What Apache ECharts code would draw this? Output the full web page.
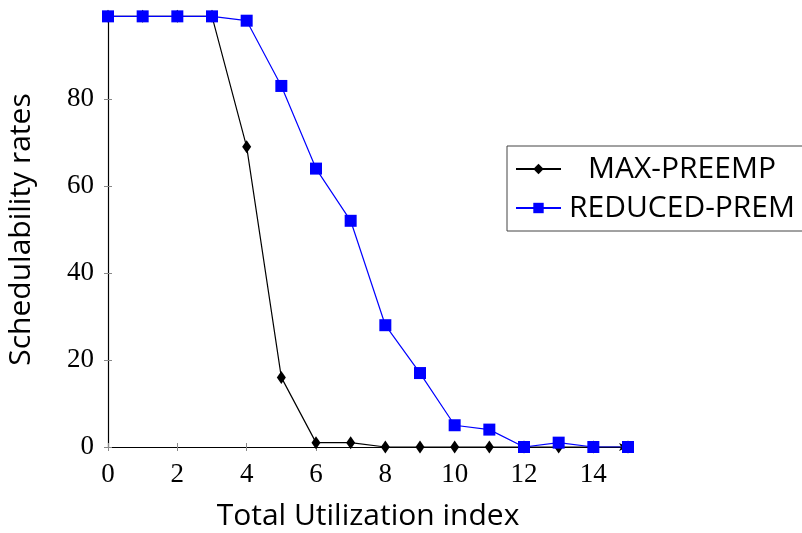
<!DOCTYPE html>
<html><head><meta charset="utf-8">
<script src="https://cdn.jsdelivr.net/npm/echarts@6/dist/echarts.min.js"></script>
<style>html,body{margin:0;padding:0;background:#fff}#c{width:802px;height:533px}</style>
</head><body><div id="c"></div>
<script>
const xValues = [0,1,2,3,4,5,6,7,8,9,10,11,12,13,14,15];
const maxPreemp = [99,99,99,99,69,16,1,1,0,0,0,0,0,0,0,0];
const reducedPrem = [99,99,99,99,98,83,64,52,28,17,5,4,0,1,0,0];
const xTickLabels = [0,2,4,6,8,10,12,14];
const yTickLabels = [0,20,40,60,80];
const seriesNames = ['MAX-PREEMP','REDUCED-PREM'];

const chart = echarts.init(document.getElementById('c'), null, {renderer:'canvas'});
const tickFont = {fontFamily:'Liberation Serif', fontSize:27, color:'#000'};
const tickStyle = {color:'#888', width:1};
const baseX = {type:'value', min:0, max:15, interval:2, position:'bottom', splitLine:{show:false}};
const baseY = {type:'value', min:0, max:100, interval:20, position:'left', splitLine:{show:false}};
chart.setOption({
  animation:false,
  backgroundColor:'#fff',
  grid:{left:108, right:174, top:12, bottom:86, containLabel:false, outerBoundsMode:'none'},
  legend:{
    orient:'vertical', left:507, top:146,
    itemWidth:45, itemHeight:13, itemGap:9,
    padding:[8,40,8,8],
    borderColor:'#444', borderWidth:1, borderRadius:0,
    data:seriesNames,
    formatter: n => '{t|' + n + '}',
    textStyle:{rich:{t:{fontFamily:'Open Sans', fontSize:30, color:'#000', width:232, align:'center'}}}
  },
  xAxis:[
    Object.assign({}, baseX, {
      name:'Total Utilization index', nameLocation:'middle', nameGap:54,
      nameTextStyle:{fontFamily:'Open Sans', fontSize:30, color:'#000'},
      axisLine:{show:true, lineStyle:{color:'#000', width:1.2}, symbol:['none','arrow'], symbolSize:[6,9]},
      axisTick:{show:true, inside:false, length:4, lineStyle:tickStyle},
      axisLabel:Object.assign({margin:14, formatter:v=>xTickLabels.includes(v)?String(v):''}, tickFont)
    }),
    Object.assign({}, baseX, {
      axisLine:{show:false},
      axisTick:{show:true, inside:true, length:4, lineStyle:tickStyle},
      axisLabel:{show:false}
    })
  ],
  yAxis:[
    Object.assign({}, baseY, {
      name:'Schedulability rates', nameLocation:'middle', nameGap:72,
      nameTextStyle:{fontFamily:'Open Sans', fontSize:30, color:'#000'},
      axisLine:{show:true, lineStyle:{color:'#000', width:1.2}, symbol:['none','arrow'], symbolSize:[6,9]},
      axisTick:{show:true, inside:false, length:4, lineStyle:tickStyle},
      axisLabel:Object.assign({margin:14, formatter:v=>yTickLabels.includes(v)?String(v):''}, tickFont)
    }),
    Object.assign({}, baseY, {
      axisLine:{show:false},
      axisTick:{show:true, inside:true, length:4, lineStyle:tickStyle},
      axisLabel:{show:false}
    })
  ],
  series:[
    {
      name:seriesNames[0], type:'line',
      data:xValues.map((x,i)=>[x,maxPreemp[i]]),
      symbol:'diamond', symbolSize:[9,13],
      itemStyle:{color:'#000'}, lineStyle:{color:'#000', width:1.2},
      z:2
    },
    {
      name:seriesNames[1], type:'line',
      data:xValues.map((x,i)=>[x,reducedPrem[i]]),
      symbol:'rect', symbolSize:12,
      itemStyle:{color:'#0000ff'}, lineStyle:{color:'#0000ff', width:1.2},
      z:3
    }
  ]
});
</script></body></html>
